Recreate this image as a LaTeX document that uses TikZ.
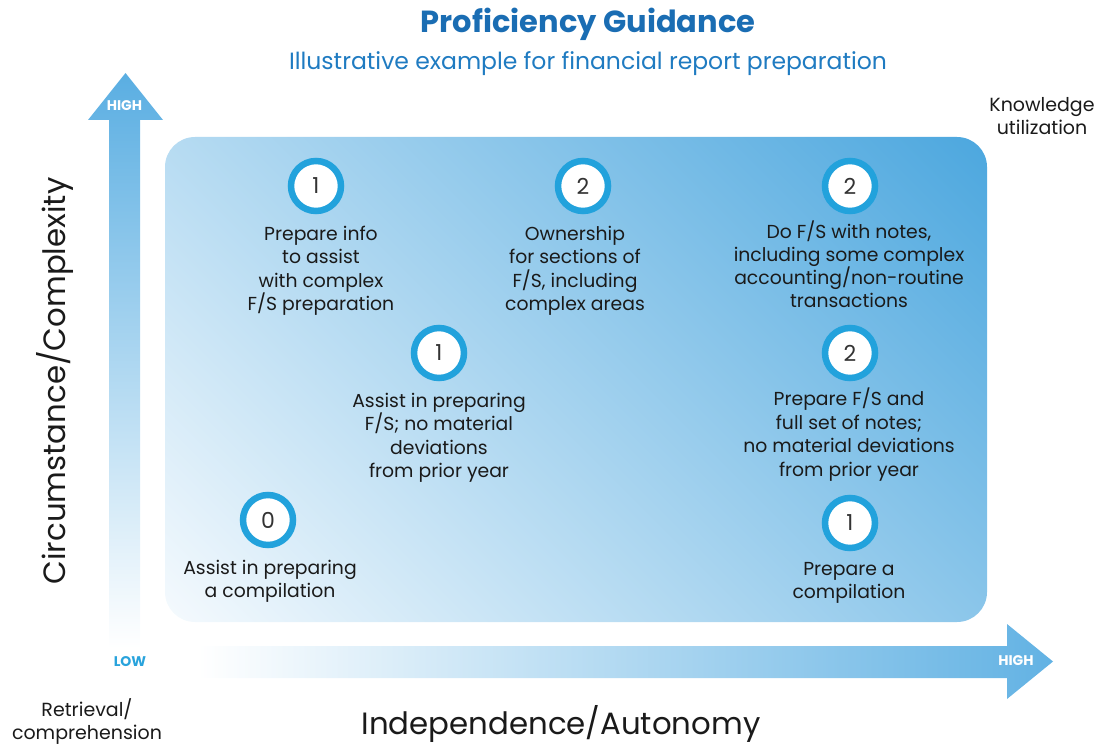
\documentclass[tikz,border=0pt]{standalone}
\usepackage{fontspec}
\setmainfont{Poppins}
\definecolor{titleblue}{HTML}{1A6DB3}
\definecolor{subblue}{HTML}{1F7BC1}
\definecolor{ringblue}{HTML}{22A2DC}
\definecolor{arrowblue}{HTML}{5AAEE2}
\definecolor{boxdark}{HTML}{4AA6DE}
\definecolor{boxlight}{HTML}{F7FBFE}
\definecolor{lowblue}{HTML}{29A3DC}
\definecolor{txt}{HTML}{1A1A1A}
\definecolor{numtxt}{HTML}{333333}
\tikzset{
  lvl/.style={circle, draw=ringblue, line width=6.5pt, fill=white, minimum size=50pt, inner sep=0pt,
    text=numtxt, font=\fontsize{22}{22}\selectfont},
  desc/.style={align=center, text=txt, font=\fontsize{18.8}{23.4}\selectfont, inner sep=0pt, anchor=north},
  axlab/.style={text=txt, font=\fontsize{30.8}{30.8}\selectfont, inner sep=0pt},
  sidelab/.style={align=center, text=txt, font=\fontsize{19}{23}\selectfont, inner sep=0pt},
  arrtxt/.style={text=white, font=\bfseries\fontsize{14}{14}\selectfont, inner sep=0pt}
}
\begin{document}
\begin{tikzpicture}[x=1pt,y=-1pt]
\useasboundingbox (0,0) rectangle (1102,746);
% box
\begin{scope}
\clip[rounded corners=30pt] (165,137) rectangle (987,622);
\shade[left color=boxdark, right color=boxlight, shading angle=-45]
  (101,-95.5) rectangle (1051,854.5);
\end{scope}
% vertical arrow
\path[top color=arrowblue, bottom color=white]
  (109,648) -- (109,120) -- (88,120) -- (125.5,73) -- (163,120) -- (140,120) -- (140,648) -- cycle;
% horizontal arrow
\path[left color=white, right color=arrowblue!95!white]
  (198,646) -- (1007,646) -- (1007,624) -- (1053,661.5) -- (1007,699) -- (1007,678) -- (198,678) -- cycle;
\node[arrtxt] (vhigh) at (124.5,106) {HIGH};
\node[arrtxt] (hhigh) at (1016,661) {HIGH};
\node[text=lowblue, font=\bfseries\fontsize{14}{14}\selectfont, inner sep=0pt] (low) at (130,662) {LOW};
% titles
\node[text=titleblue, font=\bfseries\fontsize{30.5}{30.5}\selectfont, inner sep=0pt] (title) at (588,24) {Proficiency Guidance};
\node[text=subblue, font=\fontsize{23.5}{23.5}\selectfont, inner sep=0pt] (sub) at (588,64) {Illustrative example for financial report preparation};
% side labels
\node[sidelab] (ku) at (1042,116) {Knowledge\\utilization};
\node[sidelab] (rc) at (87,722) {Retrieval/\\comprehension};
\node[axlab, rotate=90] (cc) at (55,381) {Circumstance/Complexity};
\node[axlab] (ia) at (561,724) {Independence/Autonomy};
% levels
\node[lvl] (c1) at (316,186) {1};
\node[desc] (d1) at (321,226) {Prepare info\\to assist\\with complex\\F/S preparation};
\node[lvl] (c2) at (583,186) {2};
\node[desc] (d2) at (575,226) {Ownership\\for sections of\\F/S, including\\complex areas};
\node[lvl] (c3) at (850,186) {2};
\node[desc, font=\fontsize{18.8}{23}\selectfont] (d3) at (849,221) {Do F/S with notes,\\including some complex\\accounting/non-routine\\transactions};
\node[lvl] (c4) at (439,353) {1};
\node[desc] (d4) at (439,393) {Assist in preparing\\F/S; no material\\deviations\\from prior year};
\node[lvl] (c5) at (850,353) {2};
\node[desc] (d5) at (849,388) {Prepare F/S and\\full set of notes;\\no material deviations\\from prior year};
\node[lvl] (c6) at (268,520) {0};
\node[desc] (d6) at (270,560) {Assist in preparing\\a compilation};
\node[lvl] (c7) at (850,523) {1};
\node[desc] (d7) at (849,562) {Prepare a\\compilation};
\end{tikzpicture}
\end{document}
